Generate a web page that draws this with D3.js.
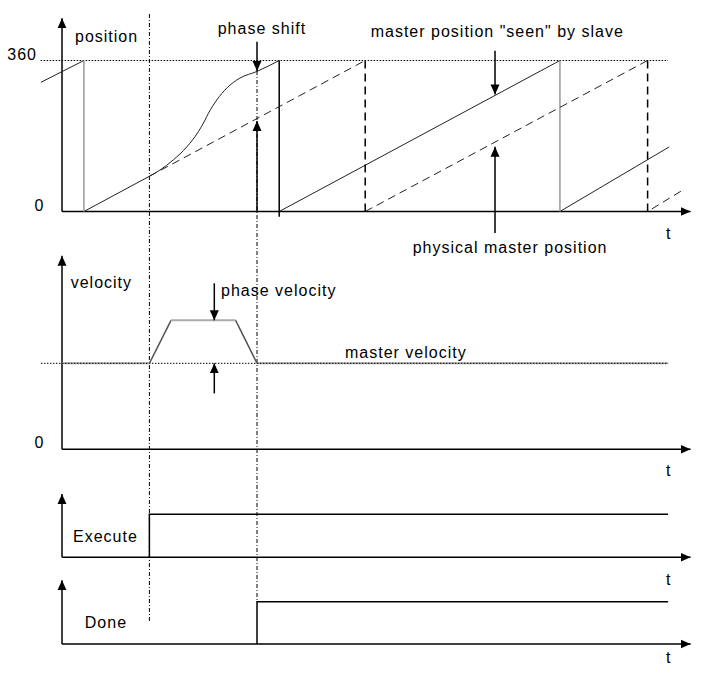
<!DOCTYPE html>
<html><head><meta charset="utf-8">
<script src="https://cdn.jsdelivr.net/npm/d3@7"></script>
<style>
body{margin:0;background:#fff}
text{font-family:"Liberation Sans",Arial,sans-serif;font-size:16px;letter-spacing:1px;fill:#000}
</style>
</head><body>
<svg id="c" width="707" height="681"></svg>
<script>
// ---------------- data (time units / degrees / relative values) ----------------
const timeDomain = [0, 100];
const posTicks = [0, 360];
const velTicks = [0];
// slave ("seen") position, solid
const slavePre = [[-7.5, 308], [7.8, 360]];
const slaveStart = [[7.8, 0], [31.1, 84]];
const slaveCurve = [[31.1, 84], [34.9, 99], [39.6, 123], [44.4, 154], [48.5, 190], [50.9, 218],
                    [52.1, 234], [55.1, 266], [58.6, 294], [63.3, 318], [69.4, 334], [77.3, 360]];
const slaveRamp2 = [[77.3, 0], [177.2, 360]];
const slaveRamp3 = [[177.2, 0], [216.1, 154]];
const slaveWrapGray = [7.8, 177.2];
const slaveWrapBlack = [77.3];
// physical master position, dashed
const masterRamp1 = [[31.1, 84], [107.9, 360]];
const masterRamp2 = [[107.9, 0], [208.4, 360]];
const masterRamp3 = [[209.9, 6], [220.9, 51]];
const masterWraps = [107.9, 208.4];
const limit360 = [[-7.6, 360], [215.7, 360]];
// velocity
const velMaster = [[-7.5, 1], [215.7, 1]];
const velMasterGray = [[[0, 1], [31.1, 1]], [[69.4, 1], [215.7, 1]]];
const velPhaseRise = [[31.1, 1], [38.8, 1.5]];
const velPhaseTop = [[38.8, 1.5], [61.8, 1.5]];
const velPhaseFall = [[61.8, 1.5], [69.4, 1]];
// signals
const executeSig = [[31.1, 0], [31.1, 1], [215.7, 1]];
const doneSig = [[69.4, 0], [69.4, 1], [215.7, 1]];
const markerTimes = [31.1, 69.4];
// annotation arrows [time, from, to]
const posArrows = [[69.4, 405, 335], [69.4, 0, 216], [154.1, 383, 279], [154.1, -51, 154.5]];
const velArrows = [[54.2, 1.93, 1.5], [54.2, 0.65, 1]];
const xEnd = 223.7;

// ---------------- drawing ----------------
const svg = d3.select("#c");
svg.append("rect").attr("width", 707).attr("height", 681).attr("fill", "#fff");
const x = d3.scaleLinear().domain(timeDomain).range([62, 343]);
const yPos = d3.scaleLinear().domain([0, 360]).range([211.5, 60.5]);
const yVel = d3.scaleLinear().domain([0, 1]).range([449.3, 363.3]);
const yExe = d3.scaleLinear().domain([0, 1]).range([557.3, 514.3]);
const yDone = d3.scaleLinear().domain([0, 1]).range([644, 601.7]);

const defs = svg.append("defs");
defs.append("marker").attr("id", "arr").attr("viewBox", "0 -5 10 10")
  .attr("refX", 10).attr("refY", 0).attr("markerWidth", 10).attr("markerHeight", 10)
  .attr("markerUnits", "userSpaceOnUse").attr("orient", "auto")
  .append("path").attr("d", "M0,-4.5L10,0L0,4.5Z").attr("fill", "#000");

function lineOf(ys, curve) {
  const l = d3.line().x(d => x(d[0])).y(d => ys(d[1]));
  if (curve) l.curve(curve);
  return l;
}
function path(data, ys, stroke, w, dash, curve) {
  const p = svg.append("path").attr("d", lineOf(ys, curve)(data)).attr("fill", "none")
    .attr("stroke", stroke).attr("stroke-width", w);
  if (dash) p.attr("stroke-dasharray", dash);
  return p;
}

// vertical marker lines (dash-dot)
svg.append("line").attr("x1", x(markerTimes[0])).attr("x2", x(markerTimes[0]))
  .attr("y1", 14).attr("y2", 622).attr("stroke", "#000").attr("stroke-width", 1)
  .attr("stroke-dasharray", "4,2,1,2");
svg.append("line").attr("x1", x(markerTimes[1])).attr("x2", x(markerTimes[1]))
  .attr("y1", yPos(335)).attr("y2", yDone(1)).attr("stroke", "#000").attr("stroke-width", 1)
  .attr("stroke-dasharray", "4,2,1,2");

// axes
function axes(ys, top) {
  svg.append("line").attr("x1", x(0)).attr("y1", ys(0)).attr("x2", x(0)).attr("y2", ys(top))
    .attr("stroke", "#000").attr("stroke-width", 1.5).attr("marker-end", "url(#arr)");
  svg.append("line").attr("x1", x(0)).attr("y1", ys(0)).attr("x2", x(xEnd)).attr("y2", ys(0))
    .attr("stroke", "#000").attr("stroke-width", 1.5).attr("marker-end", "url(#arr)");
}
axes(yPos, 460.6);
axes(yVel, 2.25);
axes(yExe, 1.47);
axes(yDone, 1.51);

// tick labels
const gP = svg.append("g").attr("transform", `translate(${x(0)},0)`)
  .call(d3.axisLeft(yPos).tickValues(posTicks).tickSize(0).tickFormat(d3.format("d")));
gP.select(".domain").remove();
gP.selectAll("text").attr("dy", 0).attr("y", -1).attr("x", d => d === 360 ? -25 : -17.5);
const gV = svg.append("g").attr("transform", `translate(${x(0)},0)`)
  .call(d3.axisLeft(yVel).tickValues(velTicks).tickSize(0).tickFormat(d3.format("d")));
gV.select(".domain").remove();
gV.selectAll("text").attr("dy", 0).attr("y", -2).attr("x", -17.5);
[gP, gV].forEach(g => g.attr("font-size", null).attr("font-family", null));

// position panel
path(limit360, yPos, "#000", 1, "1.5,1.5");
path(slavePre, yPos, "#222", 1);
path(slaveStart, yPos, "#222", 1);
path(slaveCurve, yPos, "#222", 1, null, d3.curveMonotoneX);
path(slaveRamp2, yPos, "#222", 1);
path(slaveRamp3, yPos, "#222", 1);
slaveWrapGray.forEach(t => path([[t, 0], [t, 360]], yPos, "#999", 1.5));
slaveWrapBlack.forEach(t => path([[t, -12.4], [t, 360]], yPos, "#000", 1.5));
path(masterRamp1, yPos, "#222", 1, "8,5");
path(masterRamp2, yPos, "#222", 1, "8,5");
path(masterRamp3, yPos, "#222", 1, "8,5");
masterWraps.forEach(t => path([[t, 360], [t, 0]], yPos, "#000", 1.5, "8,5"));

// velocity panel
velMasterGray.forEach(s => path(s, yVel, "#aaa", 2));
path(velMaster, yVel, "#000", 1, "1.5,1.5");
path(velPhaseRise, yVel, "#555", 1.5);
path(velPhaseTop, yVel, "#aaa", 2);
path(velPhaseFall, yVel, "#555", 1.5);

// signals
path(executeSig, yExe, "#000", 1.5);
path(doneSig, yDone, "#000", 1.5);

// annotation arrows
function arrows(list, ys) {
  list.forEach(a => svg.append("line").attr("x1", x(a[0])).attr("x2", x(a[0]))
    .attr("y1", ys(a[1])).attr("y2", ys(a[2])).attr("stroke", "#000").attr("stroke-width", 1.5)
    .attr("marker-end", "url(#arr)"));
}
arrows(posArrows, yPos);
arrows(velArrows, yVel);

// texts
const labels = [
  ["position", 75, 42], ["phase shift", 217.7, 34], ['master position "seen" by slave', 370.7, 36.5],
  ["physical master position", 412.7, 253], ["t", 666, 239],
  ["velocity", 70.7, 287.5], ["phase velocity", 221, 296], ["master velocity", 345, 358], ["t", 666, 476],
  ["Execute", 73, 541.5], ["t", 666, 585], ["Done", 84.8, 628], ["t", 666, 663]
];
svg.selectAll("text.lbl").data(labels).enter().append("text").attr("class", "lbl")
  .attr("x", d => d[1]).attr("y", d => d[2]).text(d => d[0]);
</script>
</body></html>
